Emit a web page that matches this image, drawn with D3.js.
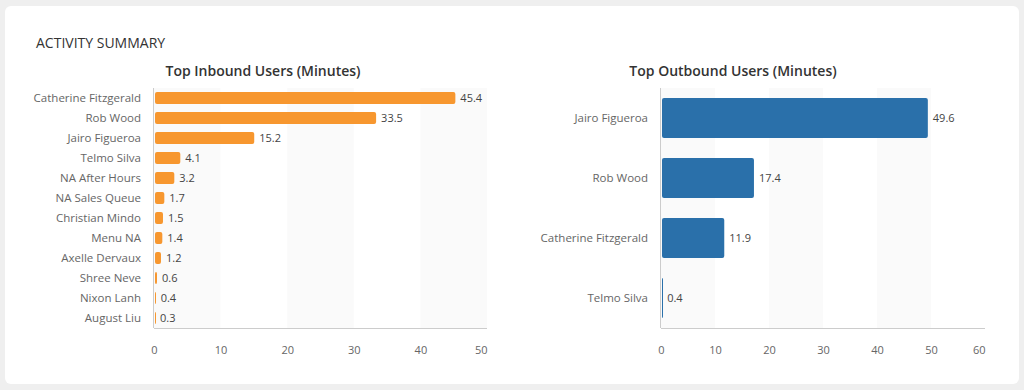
<!DOCTYPE html>
<html>
<head>
<meta charset="utf-8">
<script src="https://cdn.jsdelivr.net/npm/d3@7"></script>
<style>
html,body{margin:0;padding:0;background:#efefef;}
svg{display:block;font-family:"Open Sans",sans-serif;}
</style>
</head>
<body>
<svg id="chart" width="1024" height="390"></svg>
<script>
const inboundNames = ["Catherine Fitzgerald","Rob Wood","Jairo Figueroa","Telmo Silva","NA After Hours","NA Sales Queue","Christian Mindo","Menu NA","Axelle Dervaux","Shree Neve","Nixon Lanh","August Liu"];
const inboundValues = [45.4,33.5,15.2,4.1,3.2,1.7,1.5,1.4,1.2,0.6,0.4,0.3];
const inboundTicks = [0,10,20,30,40,50];

const outboundNames = ["Jairo Figueroa","Rob Wood","Catherine Fitzgerald","Telmo Silva"];
const outboundValues = [49.6,17.4,11.9,0.4];
const outboundTicks = [0,10,20,30,40,50,60];

const svg = d3.select("#chart");
svg.append("rect").attr("x",5).attr("y",6).attr("width",1014).attr("height",378).attr("rx",6).attr("fill","#ffffff");
svg.append("text").attr("x",36).attr("y",48).attr("font-size",14).attr("font-weight",500).attr("fill","#333").text("ACTIVITY SUMMARY");

function drawChart(opts){
  const g = svg.append("g");
  const x = d3.scaleLinear().domain([0, opts.max]).range([opts.x0, opts.x1]);
  const y = d3.scaleBand().domain(opts.names).range([88, 328]).paddingInner(opts.pad).paddingOuter(opts.pad/2);
  const t = opts.ticks;
  for(let i=0;i<t.length-1;i++){
    g.append("rect").attr("x",x(t[i])).attr("y",88).attr("width",x(t[i+1])-x(t[i])).attr("height",240)
     .attr("fill", i%2===0 ? "#fafafa" : "#ffffff");
  }
  g.append("text").attr("x",opts.titleX).attr("y",76).attr("text-anchor","middle")
    .attr("font-size",14).attr("font-weight",600).attr("fill","#333").text(opts.title);
  const data = opts.names.map((n,i)=>({name:n,value:opts.values[i]}));
  g.selectAll(".bar").data(data).enter().append("rect")
    .attr("x",x(0)+1).attr("y",d=>y(d.name)).attr("width",d=>Math.max(1,x(d.value)-x(0)-2)).attr("height",y.bandwidth())
    .attr("rx",2).attr("fill",opts.color);
  g.selectAll(".val").data(data).enter().append("text")
    .attr("x",d=>x(d.value)+4).attr("y",d=>y(d.name)+y.bandwidth()/2).attr("dy","0.35em")
    .attr("font-size",11).attr("fill","#444").text(d=>d.value);
  g.selectAll(".cat").data(data).enter().append("text")
    .attr("x",opts.x0-13).attr("y",d=>y(d.name)+y.bandwidth()/2).attr("dy","0.35em").attr("text-anchor","end")
    .attr("font-size",11.5).attr("fill","#666").text(d=>d.name);
  g.append("line").attr("x1",x(0)-0.5).attr("x2",x(0)-0.5).attr("y1",88).attr("y2",328).attr("stroke","#ccc");
  g.append("line").attr("x1",x(0)).attr("x2",opts.x1).attr("y1",328.5).attr("y2",328.5).attr("stroke","#ccc");
  const ax = g.append("g").attr("transform","translate(0,343)")
    .call(d3.axisBottom(x).tickValues(t).tickSize(0).tickFormat(d3.format("d")));
  ax.select(".domain").remove();
  ax.selectAll("text").attr("font-size",11).attr("fill","#666").attr("font-family","Open Sans, sans-serif");
  ax.selectAll("text").filter(d=>d===opts.max).attr("text-anchor","end").attr("x",0);
}

drawChart({names:inboundNames, values:inboundValues, ticks:inboundTicks, max:50, x0:154, x1:487, pad:0.4,
  color:"#f7972f", title:"Top Inbound Users (Minutes)", titleX:263});
drawChart({names:outboundNames, values:outboundValues, ticks:outboundTicks, max:60, x0:661, x1:985, pad:1/3,
  color:"#2a70aa", title:"Top Outbound Users (Minutes)", titleX:733});
</script>
</body>
</html>
